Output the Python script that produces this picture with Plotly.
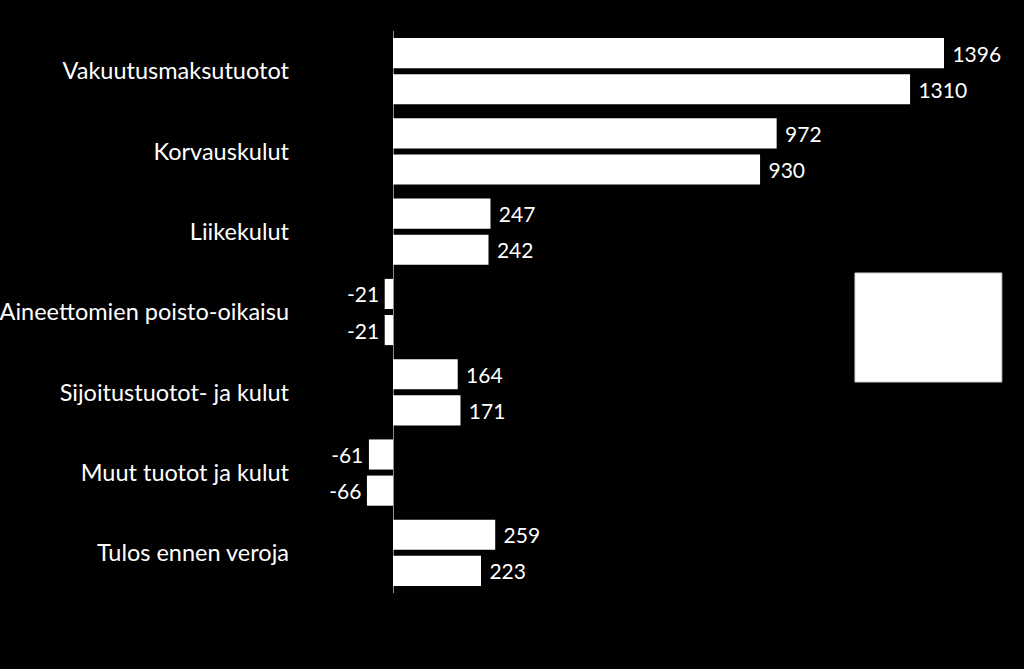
import plotly.graph_objects as go

categories = ["Vakuutusmaksutuotot", "Korvauskulut", "Liikekulut",
              "Aineettomien poisto-oikaisu", "Sijoitustuotot- ja kulut",
              "Muut tuotot ja kulut", "Tulos ennen veroja"]
series_a = [1396, 972, 247, -21, 164, -61, 259]
series_b = [1310, 930, 242, -21, 171, -66, 223]

FONT = "Lato"


def lbl(v):
    return (" " + str(v)) if v >= 0 else (str(v) + "\u2009")


fig = go.Figure()
for vals, off in ((series_a, -0.4125), (series_b, 0.0375)):
    fig.add_trace(go.Bar(
        y=categories, x=vals, orientation="h",
        width=0.375, offset=off,
        marker=dict(color="white", line=dict(width=0)),
        text=[lbl(v) for v in vals], textposition="outside",
        textfont=dict(color="white", size=21, family=FONT),
        cliponaxis=False, showlegend=False,
    ))

fig.update_layout(
    width=1024, height=669,
    paper_bgcolor="black", plot_bgcolor="black",
    margin=dict(l=330, r=14, t=31, b=76, autoexpand=False),
    barmode="overlay",
    font=dict(family=FONT, color="white", size=21),
    xaxis=dict(range=[-159.6, 1563.2], showgrid=False, showticklabels=False,
               zeroline=True, zerolinecolor="#8c8c8c", zerolinewidth=1,
               showline=False, ticks="", automargin=False),
    yaxis=dict(autorange=False, range=[6.5, -0.5], showgrid=False,
               zeroline=False, showline=False, ticks="", automargin=False,
               ticklabelstandoff=40,
               tickfont=dict(color="white", size=23.5, family=FONT)),
    shapes=[dict(type="rect", xref="paper", yref="paper",
                 x0=0.772, x1=0.988, y0=0.3754, y1=0.5694,
                 fillcolor="white", line=dict(color="#cccccc", width=1))],
)

fig.write_html("out.html")
